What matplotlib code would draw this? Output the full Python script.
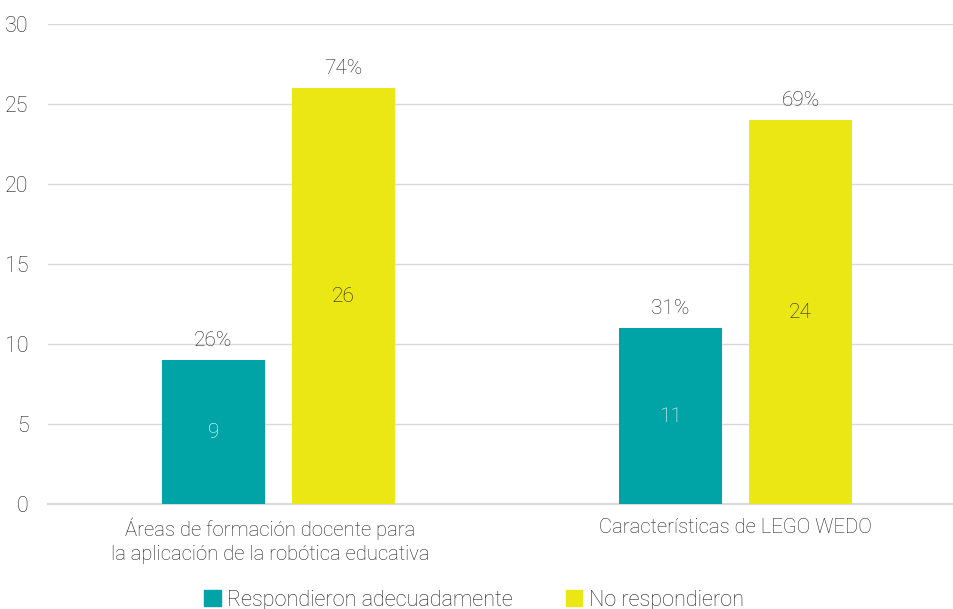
import numpy as np
import matplotlib.pyplot as plt
import matplotlib.transforms as mtransforms
from matplotlib.patches import Patch

categories = ["Áreas de formación docente para\nla aplicación de la robótica educativa",
              "Características de LEGO WEDO"]
respondieron = [9, 11]
no_respondieron = [26, 24]
pct_resp = ["26%", "31%"]
pct_no = ["74%", "69%"]
series = ["Respondieron adecuadamente", "No respondieron"]

teal = "#00A3A6"
yellow = "#EBE715"
txt = "#222222"

plt.rcParams['font.family'] = ['Roboto', 'DejaVu Sans']
plt.rcParams['font.weight'] = 'light'

fig = plt.figure(figsize=(9.54, 6.09), dpi=100)
ax = fig.add_axes([48 / 954, 1 - 504 / 609, 906 / 954, 480 / 609])

x = np.arange(len(categories))
w = 0.225
gap = 0.03
b1 = ax.bar(x - w / 2 - gap, respondieron, w, color=teal, zorder=3)
b2 = ax.bar(x + w / 2 + gap, no_respondieron, w, color=yellow, zorder=3)

for rect, v, p in zip(b1, respondieron, pct_resp):
    cx = rect.get_x() + rect.get_width() / 2
    ax.text(cx, v / 2, str(v), ha="center", va="center", color="white",
            fontsize=15, fontweight="light")
    ax.text(cx, v + 0.6, p, ha="center", va="bottom", color=txt,
            fontsize=15, fontweight="light")
for rect, v, p in zip(b2, no_respondieron, pct_no):
    cx = rect.get_x() + rect.get_width() / 2
    ax.text(cx, v / 2, str(v), ha="center", va="center", color=txt,
            fontsize=15, fontweight="light")
    ax.text(cx, v + 0.6, p, ha="center", va="bottom", color=txt,
            fontsize=15, fontweight="light")

ax.set_xlim(-0.504, 1.478)
ax.set_ylim(0, 30)
ax.set_yticks(range(0, 31, 5))
ax.set_xticks(x)
ax.set_xticklabels(categories, fontsize=14.6, color=txt, fontweight="light",
                   linespacing=1.3)
ax.tick_params(axis="y", labelsize=15.5, colors=txt, length=0, pad=14)
ax.tick_params(axis="x", length=0, pad=10)
# first label sits a bit left of its bars in the original
lbl = ax.get_xticklabels()[0]
lbl.set_transform(lbl.get_transform() +
                  mtransforms.ScaledTranslation(-0.08, 0, fig.dpi_scale_trans))
ax.yaxis.grid(True, color="#d9d9d9", linewidth=1, zorder=0)
for s in ["top", "right", "left"]:
    ax.spines[s].set_visible(False)
ax.spines["bottom"].set_color("#d9d9d9")
ax.spines["bottom"].set_linewidth(1.5)

handles = [Patch(color=teal), Patch(color=yellow)]
fig.legend(handles, series, loc="lower center", bbox_to_anchor=(0.497, -0.035),
           ncol=2, frameon=False, fontsize=15.6, handlelength=0.75, handleheight=0.75,
           handletextpad=0.3, columnspacing=2.45, labelcolor=txt)

fig.savefig("out.png", dpi=100)
